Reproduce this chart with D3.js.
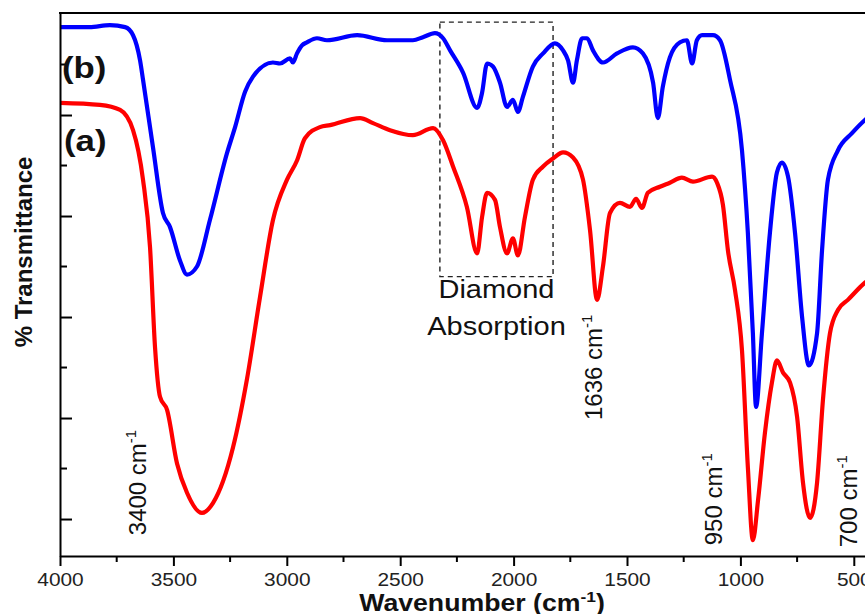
<!DOCTYPE html>
<html>
<head>
<meta charset="utf-8">
<script src="https://cdn.jsdelivr.net/npm/d3@7"></script>
<style>
  body { margin: 0; background: #fff; }
  svg { display: block; font-family: "Liberation Sans", Arial, sans-serif; }
</style>
</head>
<body>
<svg width="865" height="614"></svg>
<script>
// spectrum (b) - blue
var wnB = [4000, 3870, 3780, 3713, 3678, 3647, 3634, 3590, 3546, 3515, 3471, 3440, 3396, 3339, 3264, 3228,
  3184, 3149, 3061, 3030, 2986, 2973, 2955, 2933, 2911, 2867, 2823, 2690, 2558, 2444, 2400, 2347, 2311,
  2280, 2223, 2161, 2139, 2117, 2091, 2060, 2029, 2003, 1981, 1959, 1915, 1870, 1818, 1782, 1760, 1738,
  1721, 1698, 1676, 1650, 1606, 1544, 1474, 1430, 1385, 1364, 1342, 1311, 1266, 1236, 1213, 1192, 1169,
  1121, 1090, 1046, 993, 967, 945, 931, 905, 870, 839, 817, 790, 759, 728, 698, 662, 640, 614, 570, 508, 451, 402];
var tB = [48.7, 48.7, 48.9, 48.7, 47.9, 45.4, 43.5, 36.8, 30.3, 28.9, 25.6, 24.2, 25.0, 29.6, 36.2, 38.8,
  42.3, 43.8, 45.2, 45.1, 45.6, 45.2, 46.1, 46.9, 47.2, 47.6, 47.4, 47.9, 47.4, 47.4, 47.7, 48.1, 47.6,
  46.4, 44.2, 40.7, 42.2, 45.1, 44.8, 43.2, 40.8, 41.5, 40.3, 41.8, 44.8, 46.1, 47.1, 46.4, 45.4, 43.2,
  45.4, 47.6, 47.6, 46.4, 45.2, 46.1, 46.7, 46.1, 43.2, 39.7, 42.8, 45.7, 47.2, 47.4, 45.1, 47.4, 47.9,
  47.9, 47.4, 43.5, 36.5, 28.3, 18.4, 11.1, 18.4, 28.3, 34.3, 35.3, 33.9, 28.3, 20.0, 15.2, 18.4, 26.6, 33.6, 36.5, 38.2, 39.5, 40.3];

// spectrum (a) - red
var wnA = [4000, 3824, 3735, 3678, 3634, 3603, 3581, 3559, 3528, 3484, 3440, 3374, 3325, 3237, 3176, 3118,
  3061, 2999, 2955, 2920, 2854, 2809, 2677, 2620, 2545, 2444, 2355, 2311, 2267, 2206, 2161, 2139, 2117,
  2082, 2060, 2029, 2003, 1981, 1950, 1915, 1870, 1826, 1782, 1738, 1694, 1663, 1632, 1606, 1575, 1531,
  1487, 1460, 1434, 1408, 1355, 1311, 1258, 1209, 1125, 1103, 1077, 1055, 1024, 993, 967, 945, 922, 892,
  861, 839, 812, 781, 750, 724, 693, 662, 636, 605, 570, 526, 451, 402];
var tA = [41.2, 41.0, 40.5, 38.5, 33.6, 26.9, 17.0, 12.1, 10.8, 5.5, 2.6, 0.6, 1.6, 7.1, 13.8, 22.0,
  29.6, 33.6, 35.5, 37.7, 38.8, 39.0, 39.7, 39.2, 38.5, 38.0, 38.7, 37.5, 34.9, 30.9, 26.3, 29.9, 32.3,
  31.6, 28.9, 26.3, 27.8, 26.1, 29.9, 33.6, 34.9, 35.7, 36.3, 35.8, 33.6, 28.6, 21.7, 25.0, 30.3, 31.3,
  30.9, 31.7, 30.8, 32.3, 32.9, 33.3, 33.8, 33.4, 33.9, 33.3, 31.1, 26.6, 22.7, 16.7, 5.1, -2.1, 1.9, 8.5,
  13.5, 15.7, 14.5, 13.5, 10.1, 3.6, 0.1, 3.6, 11.8, 18.4, 20.7, 21.7, 23.4, 24.2];

var xMajor = [4000, 3500, 3000, 2500, 2000, 1500, 1000, 500];
var xMinor = [3750, 3250, 2750, 2250, 1750, 1250, 750];
var yMajor = [0, 10, 20, 30, 40];
var yMinor = [5, 15, 25, 35, 45];

var peaks = [
  { label: "3400", wn: 3621, t: -1.6 },
  { label: "1636", wn: 1612, t: 9.8 },
  { label: "950", wn: 1081, t: -2.6 },
  { label: "700", wn: 486, t: -2.8 }
];
var diamondBox = { from: 2325, to: 1826, top: 49.2, bottom: 24.0 };

var svg = d3.select("svg");
var width = +svg.attr("width");
var height = +svg.attr("height");
var margin = { top: 13, left: 60, bottom: 58 };
var stretch = 1.16; // text in the picture is a bit wide

var x = d3.scaleLinear().domain([4000, 400]).range([margin.left, margin.left + 3600 * 0.2268]);
var y = d3.scaleLinear().domain([-3.66, 50.1]).range([height - margin.bottom, margin.top]);
var x0 = margin.left, yB = height - margin.bottom;

svg.append("defs").append("clipPath").attr("id", "plot")
  .append("rect").attr("x", x0).attr("y", margin.top).attr("width", width).attr("height", yB - margin.top);

// diamond absorption box
svg.append("rect")
  .attr("x", x(diamondBox.from)).attr("y", y(diamondBox.top))
  .attr("width", x(diamondBox.to) - x(diamondBox.from))
  .attr("height", y(diamondBox.bottom) - y(diamondBox.top))
  .attr("fill", "none").attr("stroke", "#222").attr("stroke-width", 1.4)
  .attr("stroke-dasharray", "5,4");

// spectra
var line = d3.line().x(function (d) { return x(d[0]); }).y(function (d) { return y(d[1]); })
  .curve(d3.curveMonotoneX);
var series = [
  { wn: wnB, t: tB, color: "#0000ff" },
  { wn: wnA, t: tA, color: "#ff0000" }
];
svg.append("g").attr("clip-path", "url(#plot)")
  .selectAll("path").data(series).enter().append("path")
  .attr("d", function (s) { return line(s.wn.map(function (w, i) { return [w, s.t[i]]; })); })
  .attr("fill", "none").attr("stroke", function (s) { return s.color; })
  .attr("stroke-width", 4.2).attr("stroke-linejoin", "round").attr("stroke-linecap", "round");

// x axis
var xAxis = svg.append("g").attr("transform", "translate(0," + yB + ")")
  .call(d3.axisBottom(x).tickValues(xMajor).tickSize(10).tickSizeOuter(0).tickPadding(7).tickFormat(d3.format("d")));
xAxis.select(".domain").attr("stroke-width", 2);
xAxis.selectAll(".tick line").attr("stroke-width", 2);
xAxis.selectAll(".tick text").attr("font-size", 18).attr("fill", "#222")
  .attr("font-family", "Liberation Sans, Arial, sans-serif")
  .attr("transform", "scale(" + stretch + ",1)");
xAxis.selectAll(".minor").data(xMinor).enter().append("line").attr("class", "minor")
  .attr("x1", function (d) { return x(d); }).attr("x2", function (d) { return x(d); })
  .attr("y1", 0).attr("y2", 6).attr("stroke", "#000").attr("stroke-width", 2);

// y axis, ticks inward, no labels
var yAxis = svg.append("g").attr("transform", "translate(" + x0 + ",0)")
  .call(d3.axisRight(y).tickValues(yMajor).tickSize(12).tickSizeOuter(0).tickFormat(""));
yAxis.select(".domain").attr("stroke-width", 2);
yAxis.selectAll(".tick line").attr("stroke-width", 2);
yAxis.selectAll(".minor").data(yMinor).enter().append("line").attr("class", "minor")
  .attr("y1", function (d) { return y(d); }).attr("y2", function (d) { return y(d); })
  .attr("x1", 0).attr("x2", 7).attr("stroke", "#000").attr("stroke-width", 2);

// top frame
svg.append("line").attr("x1", x0 - 1).attr("x2", width).attr("y1", margin.top).attr("y2", margin.top)
  .attr("stroke", "#000").attr("stroke-width", 2);

// axis titles
var xt = svg.append("text").attr("transform", "translate(482,611) scale(" + stretch + ",1)")
  .attr("text-anchor", "middle").attr("font-weight", "bold").attr("font-size", 23).attr("fill", "#111");
xt.append("tspan").text("Wavenumber (cm");
xt.append("tspan").attr("font-size", 15).attr("dy", -9).text("-1");
xt.append("tspan").attr("dy", 9).text(")");

svg.append("text").attr("transform", "translate(32,252) rotate(-90)")
  .attr("text-anchor", "middle").attr("font-weight", "bold").attr("font-size", 24).attr("fill", "#111")
  .text("% Transmittance");

// series labels
svg.append("text").attr("transform", "translate(62,78) scale(" + stretch + ",1)")
  .attr("font-weight", "bold").attr("font-size", 30).attr("fill", "#111").text("(b)");
svg.append("text").attr("transform", "translate(64,151) scale(" + stretch + ",1)")
  .attr("font-weight", "bold").attr("font-size", 30).attr("fill", "#111").text("(a)");

// peak labels
peaks.forEach(function (p) {
  var t = svg.append("text").attr("transform", "translate(" + x(p.wn) + "," + y(p.t) + ") rotate(-90)")
    .attr("font-size", 24).attr("fill", "#111");
  t.append("tspan").text(p.label + " cm");
  t.append("tspan").attr("font-size", 15).attr("dy", -10).text("-1");
});

// diamond absorption caption
var cx = (x(diamondBox.from) + x(diamondBox.to)) / 2;
svg.append("text").attr("transform", "translate(" + cx + ",298) scale(" + stretch + ",1)")
  .attr("text-anchor", "middle").attr("font-size", 25).attr("fill", "#111").text("Diamond");
svg.append("text").attr("transform", "translate(" + cx + ",335) scale(" + stretch + ",1)")
  .attr("text-anchor", "middle").attr("font-size", 25).attr("fill", "#111").text("Absorption");
</script>
</body>
</html>
